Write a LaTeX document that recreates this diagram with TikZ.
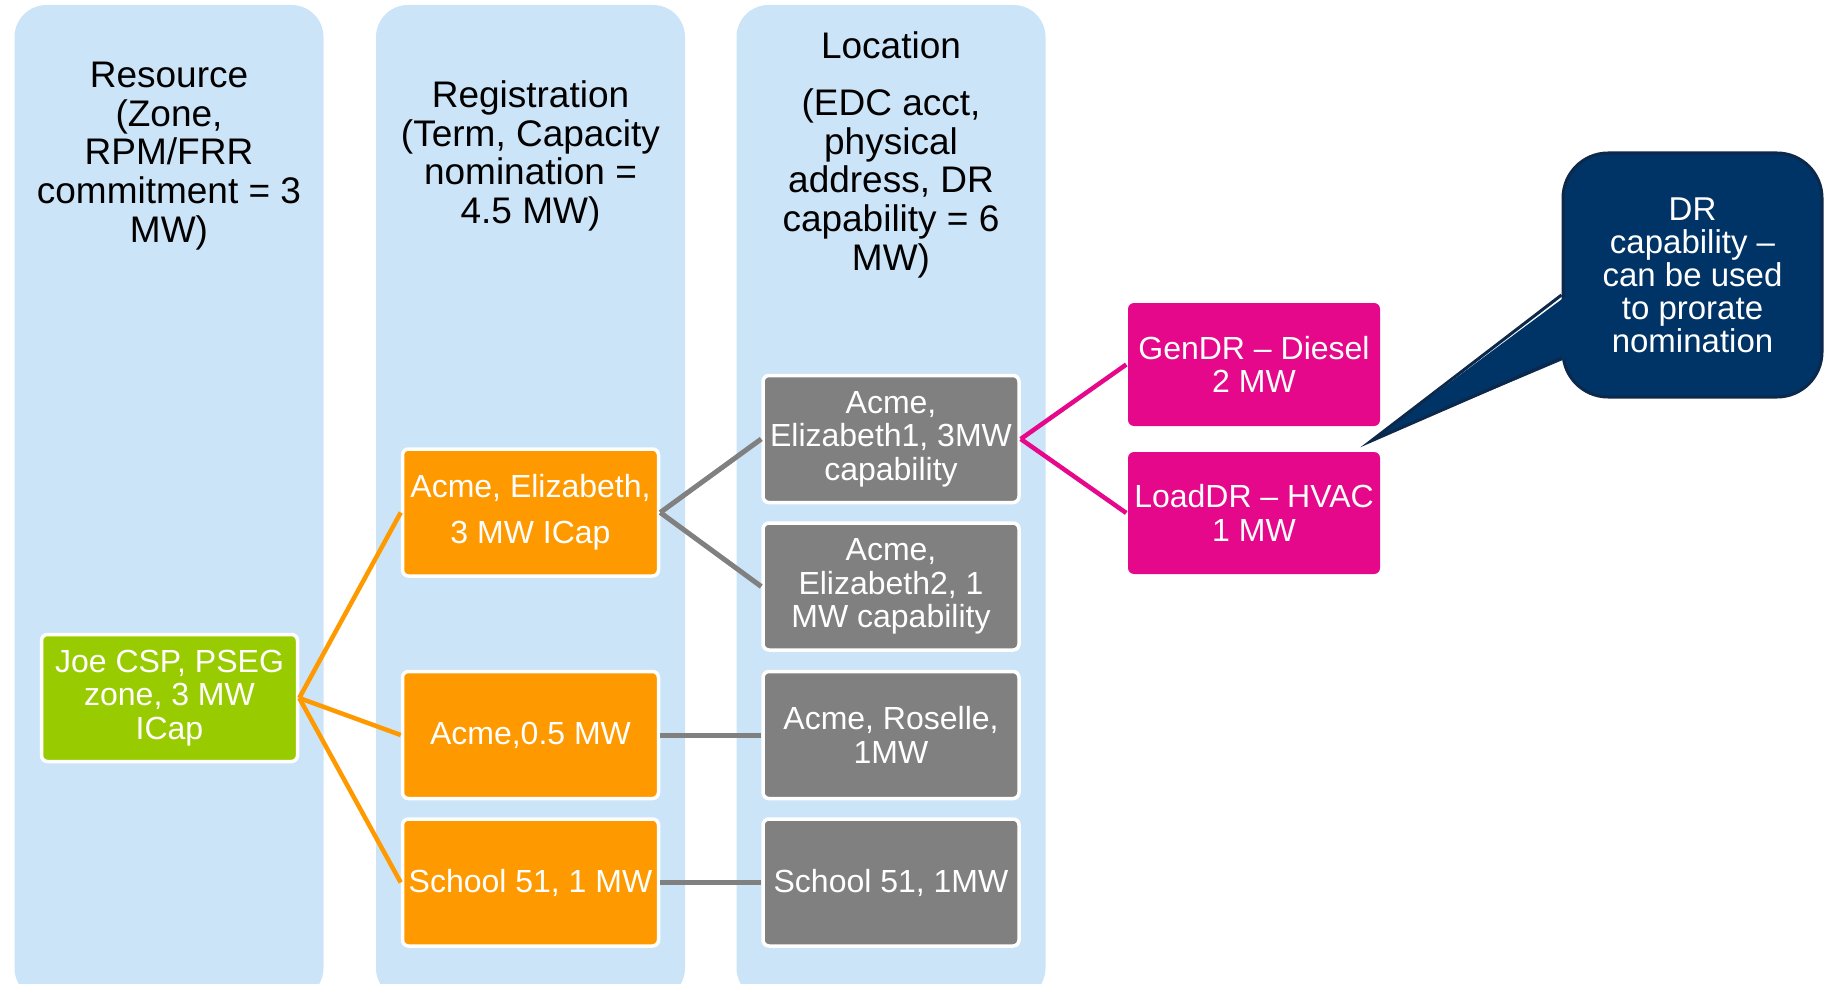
\documentclass[tikz,border=0pt]{standalone}
\usepackage{fontspec}
\setmainfont{Liberation Sans}
\usepackage{tikz}
\definecolor{colblue}{RGB}{204,228,247}
\definecolor{resgreen}{RGB}{153,204,0}
\definecolor{regorange}{RGB}{255,153,0}
\definecolor{locgray}{RGB}{128,128,128}
\definecolor{drpink}{RGB}{230,8,138}
\definecolor{notenavy}{RGB}{0,51,102}
\definecolor{notenavyedge}{RGB}{12,40,75}
\tikzstyle{column} = [rectangle, rounded corners=32pt, minimum width=309pt, minimum height=995pt, fill=colblue, inner sep=0pt]
\tikzstyle{header} = [align=center, font=\fontsize{37}{38.7}\selectfont]
\tikzstyle{item} = [rectangle, rounded corners=6pt, minimum width=256pt, minimum height=127pt, align=center, draw=white, line width=3.5pt, text=white, font=\fontsize{32}{33.5}\selectfont, inner sep=2pt]
\tikzstyle{link} = [line width=4.5pt]
\tikzstyle{note} = [rectangle, rounded corners=45pt, minimum width=259pt, minimum height=244pt, align=center, fill=notenavy, draw=notenavyedge, line width=3pt, text=white, font=\fontsize{33}{33}\selectfont]

\begin{document}
\begin{tikzpicture}[x=1pt, y=-1pt]
\useasboundingbox (0,0) rectangle (1825,984);
\clip (0,0) rectangle (1825,984);

% Columns
\node[column] (rescol) at (169,502.5) {};
\node[column] (regcol) at (530.5,502.5) {};
\node[column] (loccol) at (891,502.5) {};

% Column headers
\node[header] (reshead) at (169,156) {Resource\\(Zone,\\RPM/FRR\\commitment = 3\\MW)};
\node[header] (reghead) at (530.5,156) {Registration\\(Term, Capacity\\nomination =\\4.5 MW)};
\node[header] (lochead) at (891,155) {Location\\[18pt](EDC acct,\\physical\\address, DR\\capability = 6\\MW)};

% Resource
\node[item, fill=resgreen] (joe) at (169.5,698) {Joe CSP, PSEG\\zone, 3 MW\\ICap};

% Registrations
\node[item, fill=regorange, font=\fontsize{32}{46}\selectfont] (reg1) at (530.5,512.5) {Acme, Elizabeth,\\3 MW ICap};
\node[item, fill=regorange] (reg2) at (530.5,735) {Acme,0.5 MW};
\node[item, fill=regorange] (reg3) at (530.5,882.5) {School 51, 1 MW};

% Locations
\node[item, fill=locgray] (loc1) at (891,439) {Acme,\\Elizabeth1, 3MW\\capability};
\node[item, fill=locgray] (loc2) at (891,586.5) {Acme,\\Elizabeth2, 1\\MW capability};
\node[item, fill=locgray] (loc3) at (891,735) {Acme, Roselle,\\1MW};
\node[item, fill=locgray] (loc4) at (891,882.5) {School 51, 1MW};

% DR capability
\node[item, fill=drpink, draw=none, minimum width=252pt, minimum height=123pt] (gendr) at (1254,364.5) {GenDR -- Diesel\\2 MW};
\node[item, fill=drpink, draw=none, minimum width=252pt, minimum height=122pt] (loaddr) at (1254,513) {LoadDR -- HVAC\\1 MW};

% Callout
\node[note] (drnote) at (1692.5,275) {DR\\capability --\\can be used\\to prorate\\nomination};
\coordinate (tip) at (1371,441);
\fill[notenavy] ([xshift=6pt,yshift=-20pt]drnote.west) -- (tip) -- ([xshift=6pt,yshift=-83pt]drnote.west) -- cycle;
\draw[notenavyedge, line width=3pt] ([yshift=-20pt]drnote.west) -- (tip) -- ([yshift=-83pt]drnote.west);

% Connections
\draw[link, regorange] (joe.east) -- (reg1.west);
\draw[link, regorange] (joe.east) -- (reg2.west);
\draw[link, regorange] (joe.east) -- (reg3.west);
\draw[link, locgray, line width=5pt] (reg1.east) -- (loc1.west);
\draw[link, locgray, line width=5pt] (reg1.east) -- (loc2.west);
\draw[link, locgray, line width=5pt] (reg2.east) -- (loc3.west);
\draw[link, locgray, line width=5pt] (reg3.east) -- (loc4.west);
\draw[link, drpink] (loc1.east) -- (gendr.west);
\draw[link, drpink] (loc1.east) -- (loaddr.west);
\end{tikzpicture}
\end{document}
